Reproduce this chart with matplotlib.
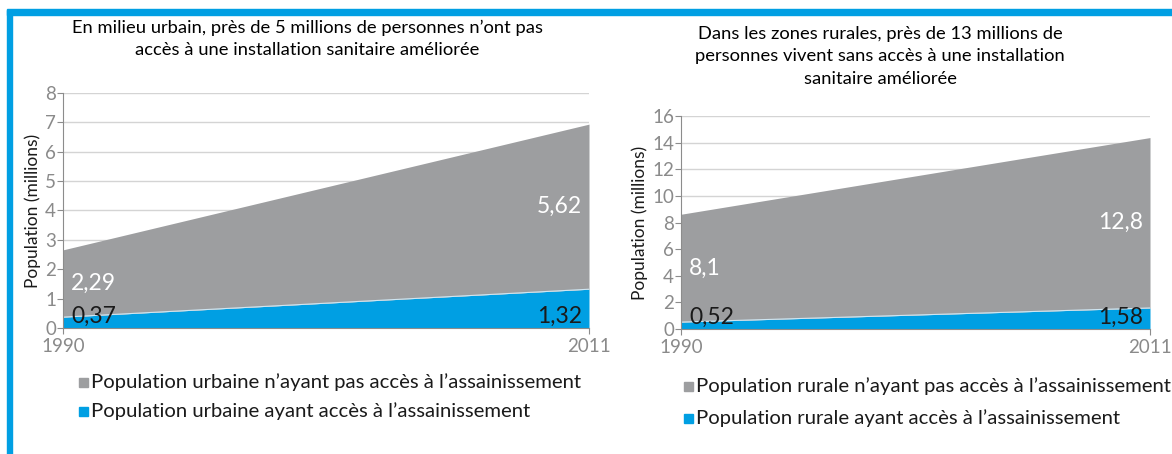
import matplotlib.pyplot as plt
from matplotlib.patches import Rectangle

plt.rcParams['font.family'] = ['Lato', 'DejaVu Sans']

years = [1990, 2011]

# urbain (millions)
urban_with = [0.37, 1.32]
urban_without = [2.29, 5.62]
# rural (millions)
rural_with = [0.52, 1.58]
rural_without = [8.1, 12.8]

urban_title = "En milieu urbain, près de 5 millions de personnes n’ont pas\naccès à une installation sanitaire améliorée"
rural_title = "Dans les zones rurales, près de 13 millions de\npersonnes vivent sans accès à une installation\nsanitaire améliorée"
urban_legend = ["Population urbaine n’ayant pas accès à l’assainissement",
                "Population urbaine ayant accès à l’assainissement"]
rural_legend = ["Population rurale n’ayant pas accès à l’assainissement",
                "Population rurale ayant accès à l’assainissement"]

GRAY = "#9d9ea0"
BLUE = "#009fe3"
AXIS = "#8c8c8c"
GRID = "#d4d4d4"

fig = plt.figure(figsize=(11.72, 4.54), dpi=100)

# blue frame (top and left)
fig.patches.append(Rectangle((7 / 1172, 1 - 15 / 454), 1, 6 / 454,
                             transform=fig.transFigure, color=BLUE, zorder=0))
fig.patches.append(Rectangle((7 / 1172, 0), 5 / 1172, 1 - 10 / 454,
                             transform=fig.transFigure, color=BLUE, zorder=0))


def stacked_area(ax, with_acc, without_acc, ymax, ystep):
    top = [a + b for a, b in zip(with_acc, without_acc)]
    ax.fill_between(years, 0, with_acc, color=BLUE, lw=0, zorder=2)
    ax.fill_between(years, with_acc, top, color=GRAY, lw=0, zorder=2)
    ax.plot(years, with_acc, color="#cfe6f2", lw=0.8, zorder=3)

    ax.set_xlim(years[0], years[-1])
    ax.set_ylim(0, ymax)
    ax.set_xticks(years)
    ax.set_yticks(range(0, ymax + 1, ystep))
    ax.grid(axis="y", color=GRID, lw=1, zorder=0)
    ax.set_axisbelow(True)
    for s in ("top", "right"):
        ax.spines[s].set_visible(False)
    for s in ("left", "bottom"):
        ax.spines[s].set_color(AXIS)
        ax.spines[s].set_zorder(4)
    ax.tick_params(colors=AXIS, labelcolor="#8a8a8a", labelsize=13.5,
                   length=4)
    ax.tick_params(axis="y", pad=1)
    ax.tick_params(axis="x", pad=3)
    ax.set_ylabel("Population (millions)", fontsize=12.5, color="#1a1a1a",
                  labelpad=3)

    # value labels
    fmt = lambda v: f"{v:g}".replace(".", ",")
    for i, (x, ha, dx) in enumerate([(years[0], "left", 6), (years[-1], "right", -5)]):
        ax.annotate(fmt(without_acc[i]), (x, with_acc[i] + without_acc[i] / 2),
                    xytext=(dx, 0), textcoords="offset points", ha=ha,
                    va="center", color="white", fontsize=16.5, zorder=5)
        ax.annotate(fmt(with_acc[i]), (x, 0), xytext=(dx, 1),
                    textcoords="offset points", ha=ha, va="bottom",
                    color="#1a1a1a", fontsize=16.5, zorder=5)


ax1 = fig.add_axes([63 / 1172, 126 / 454, 526 / 1172, 235 / 454])
stacked_area(ax1, urban_with, urban_without, 8, 1)
fig.text(307 / 1172, 1 - 39 / 454, urban_title, ha="center", va="center",
         fontsize=13.2, linespacing=1.45)

ax2 = fig.add_axes([681 / 1172, 125 / 454, 469 / 1172, 213 / 454])
stacked_area(ax2, rural_with, rural_without, 16, 2)
fig.text(880 / 1172, 1 - 56 / 454, rural_title, ha="center", va="center",
         fontsize=13.2, linespacing=1.5)


# legends: colour square + text
def legend(labels, x, y, gap):
    for j, (lab, col) in enumerate(zip(labels, [GRAY, BLUE])):
        yy = y + j * gap
        fig.patches.append(Rectangle((x / 1172, (454 - yy - 5) / 454), 9 / 1172, 9 / 454,
                                     transform=fig.transFigure, color=col))
        fig.text((x + 12) / 1172, (454 - yy) / 454, lab, ha="left", va="center",
                 fontsize=14.6, color="#1a1a1a")


legend(urban_legend, 79, 382, 29)
legend(rural_legend, 684, 386, 32)

fig.savefig("out.png", dpi=100)
